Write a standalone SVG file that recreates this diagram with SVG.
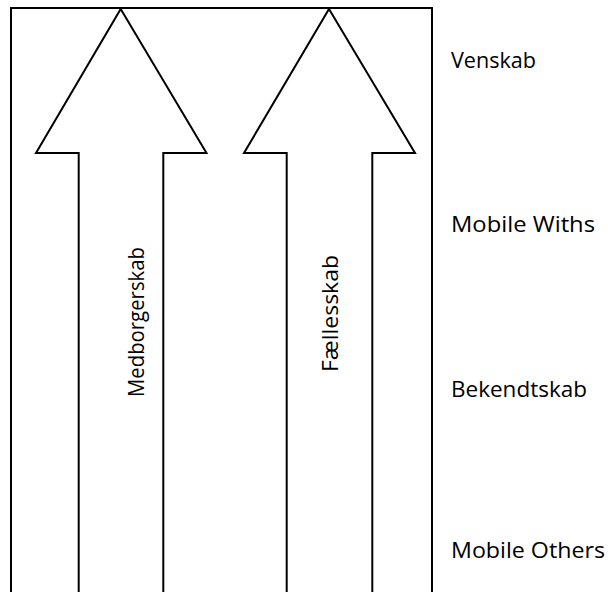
<svg xmlns="http://www.w3.org/2000/svg" width="608" height="592" viewBox="0 0 608 592">
<style>
.shape{fill:#fff;stroke:#000;stroke-width:2;stroke-linejoin:miter}
.lbl{font-family:"Open Sans","Liberation Sans",sans-serif;font-size:21px;fill:#000}
.lvl{font-size:22px}
</style>
<rect width="608" height="592" fill="#fff"/>
<g id="frame"><rect class="shape" x="11" y="8" width="421" height="600"/></g>
<g id="arrow-medborgerskab">
<path class="shape" d="M120.7,9 L206.5,153 L163.3,153 L163.3,600 L78.7,600 L78.7,153 L36,153 Z"/>
<text class="lbl" transform="translate(144,322) rotate(-90)" text-anchor="middle" textLength="150" lengthAdjust="spacingAndGlyphs">Medborgerskab</text>
</g>
<g id="arrow-faellesskab">
<path class="shape" d="M329,9 L415,153 L372.3,153 L372.3,600 L286.7,600 L286.7,153 L244,153 Z"/>
<text class="lbl" transform="translate(337.5,313.5) rotate(-90)" text-anchor="middle" textLength="117" lengthAdjust="spacingAndGlyphs">Fællesskab</text>
</g>
<g id="level-venskab"><text class="lbl lvl" x="451" y="68" textLength="85" lengthAdjust="spacingAndGlyphs">Venskab</text></g>
<g id="level-mobile-withs"><text class="lbl lvl" x="451" y="232" textLength="144" lengthAdjust="spacingAndGlyphs">Mobile Withs</text></g>
<g id="level-bekendtskab"><text class="lbl lvl" x="451" y="397" textLength="136" lengthAdjust="spacingAndGlyphs">Bekendtskab</text></g>
<g id="level-mobile-others"><text class="lbl lvl" x="451" y="558" textLength="154" lengthAdjust="spacingAndGlyphs">Mobile Others</text></g>
<g id="connectors"></g>
</svg>
